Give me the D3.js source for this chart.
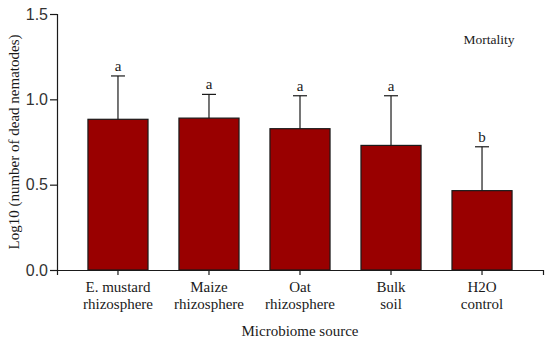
<!DOCTYPE html>
<html>
<head>
<meta charset="utf-8">
<script src="https://cdn.jsdelivr.net/npm/d3@7"></script>
<style>
  body { margin: 0; background: #fff; }
</style>
</head>
<body>
<div id="chart"></div>
<script>
// data
const categories = [["E. mustard", "rhizosphere"], ["Maize", "rhizosphere"], ["Oat", "rhizosphere"], ["Bulk", "soil"], ["H2O", "control"]];
const means = [0.883, 0.890, 0.828, 0.730, 0.465];
const errors = [0.254, 0.139, 0.193, 0.291, 0.257];
const letters = ["a", "a", "a", "a", "b"];
const yTicks = [0.0, 0.5, 1.0, 1.5];

const width = 550, height = 346;
const margin = { top: 14, right: 7, bottom: 76, left: 57 };
const serif = "'Liberation Serif', 'Times New Roman', serif";
const ink = "#1a1a1a";

const svg = d3.select('#chart')
    .append('svg')
    .attr('width', width)
    .attr('height', height);

// X Scale
const x = d3.scaleBand()
    .domain(d3.range(categories.length))
    .range([margin.left, width - margin.right])
    .padding(0.34);

// Y Scale
const y = d3.scaleLinear()
    .domain([0, 1.5])
    .range([height - margin.bottom, margin.top]);

// bars
svg.selectAll("rect.bar")
    .data(means)
    .enter().append("rect")
    .attr("class", "bar")
    .attr("x", (d, i) => x(i))
    .attr("y", d => y(d))
    .attr("width", x.bandwidth())
    .attr("height", d => y(0) - y(d))
    .attr("fill", "#990000")
    .attr("stroke", ink)
    .attr("stroke-width", 1.2);

// error bars
const eb = svg.selectAll("g.err")
    .data(means)
    .enter().append("g")
    .attr("class", "err")
    .attr("stroke", ink)
    .attr("stroke-width", 1.2);

eb.append("line")
    .attr("x1", (d, i) => x(i) + x.bandwidth() / 2)
    .attr("x2", (d, i) => x(i) + x.bandwidth() / 2)
    .attr("y1", d => y(d))
    .attr("y2", (d, i) => y(d + errors[i]));

eb.append("line")
    .attr("x1", (d, i) => x(i) + x.bandwidth() / 2 - 7)
    .attr("x2", (d, i) => x(i) + x.bandwidth() / 2 + 7)
    .attr("y1", (d, i) => y(d + errors[i]))
    .attr("y2", (d, i) => y(d + errors[i]));

// letters
svg.selectAll("text.letter")
    .data(letters)
    .enter().append("text")
    .attr("class", "letter")
    .attr("x", (d, i) => x(i) + x.bandwidth() / 2)
    .attr("y", (d, i) => y(means[i] + errors[i]) - 5)
    .attr("text-anchor", "middle")
    .attr("fill", ink)
    .style("font-family", serif)
    .style("font-size", "15px")
    .text(d => d);

// Y Axis
const yAxisCall = d3.axisLeft(y)
    .tickValues(yTicks)
    .tickFormat(d3.format(".1f"))
    .tickSize(7)
    .tickPadding(2);

const yAxisGroup = svg.append("g")
    .attr("transform", "translate(" + margin.left + ",0)")
    .call(yAxisCall);

yAxisGroup.select(".domain").attr("stroke", ink).attr("stroke-width", 1.2);
yAxisGroup.selectAll(".tick line").attr("stroke", ink).attr("stroke-width", 1.2);
yAxisGroup.selectAll("text")
    .attr("fill", "#333")
    .style("font-family", "'Liberation Sans', Arial, sans-serif")
    .style("font-size", "16px");

// X Axis
const xAxisCall = d3.axisBottom(x)
    .tickSizeOuter(0)
    .tickSize(5)
    .tickFormat("");

const xAxisGroup = svg.append("g")
    .attr("transform", "translate(0," + y(0) + ")")
    .call(xAxisCall);

xAxisGroup.select(".domain").attr("stroke", ink).attr("stroke-width", 1.2);
xAxisGroup.selectAll(".tick line").attr("stroke", ink).attr("stroke-width", 1.2);

// x tick labels (two lines)
const xl = svg.selectAll("text.xlab")
    .data(categories)
    .enter().append("text")
    .attr("class", "xlab")
    .attr("text-anchor", "middle")
    .attr("fill", ink)
    .style("font-family", serif)
    .style("font-size", "15px");

xl.each(function (d, i) {
    const t = d3.select(this);
    d.forEach((line, j) => {
        t.append("tspan")
            .attr("x", x(i) + x.bandwidth() / 2)
            .attr("y", y(0) + 22 + j * 17)
            .text(line);
    });
});

// axis titles
svg.append("text")
    .attr("x", (margin.left + width - margin.right) / 2)
    .attr("y", 336)
    .attr("text-anchor", "middle")
    .attr("fill", ink)
    .style("font-family", serif)
    .style("font-size", "15px")
    .text("Microbiome source");

svg.append("text")
    .attr("transform", "translate(19," + ((margin.top + height - margin.bottom) / 2) + ") rotate(-90)")
    .attr("text-anchor", "middle")
    .attr("fill", ink)
    .style("font-family", serif)
    .style("font-size", "15px")
    .text("Log10 (number of dead nematodes)");

svg.append("text")
    .attr("x", 489)
    .attr("y", 44)
    .attr("text-anchor", "middle")
    .attr("fill", ink)
    .style("font-family", serif)
    .style("font-size", "13.5px")
    .text("Mortality");
</script>
</body>
</html>
